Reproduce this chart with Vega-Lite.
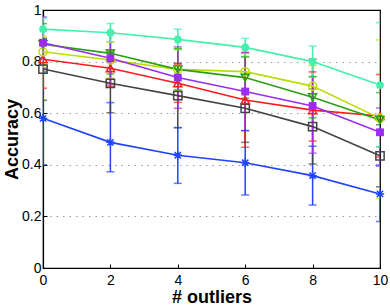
{
  "$schema": "https://vega.github.io/schema/vega-lite/v6.json",
  "width": 337,
  "height": 258,
  "autosize": "none",
  "padding": {"left": 43, "top": 10, "right": 10, "bottom": 40},
  "background": "white",
  "config": {
    "font": "Liberation Sans",
    "view": {"stroke": "black", "strokeWidth": 1.2},
    "axis": {"labelFont": "Liberation Sans", "titleFont": "Liberation Sans"}
  },
  "datasets": {
    "pts": [
      {"s": "blue", "x": 0, "y": 0.580, "lo": 0.400, "hi": 0.760},
      {"s": "blue", "x": 2, "y": 0.487, "lo": 0.373, "hi": 0.641},
      {"s": "blue", "x": 4, "y": 0.437, "lo": 0.328, "hi": 0.544},
      {"s": "blue", "x": 6, "y": 0.408, "lo": 0.283, "hi": 0.533},
      {"s": "blue", "x": 8, "y": 0.358, "lo": 0.244, "hi": 0.472},
      {"s": "blue", "x": 10, "y": 0.287, "lo": 0.180, "hi": 0.395},
      {"s": "grey", "x": 0, "y": 0.771, "lo": 0.650, "hi": 0.890},
      {"s": "grey", "x": 2, "y": 0.716, "lo": 0.602, "hi": 0.836},
      {"s": "grey", "x": 4, "y": 0.668, "lo": 0.544, "hi": 0.793},
      {"s": "grey", "x": 6, "y": 0.619, "lo": 0.487, "hi": 0.750},
      {"s": "grey", "x": 8, "y": 0.548, "lo": 0.403, "hi": 0.693},
      {"s": "grey", "x": 10, "y": 0.435, "lo": 0.315, "hi": 0.555},
      {"s": "red", "x": 0, "y": 0.809, "lo": 0.697, "hi": 0.920},
      {"s": "red", "x": 2, "y": 0.774, "lo": 0.705, "hi": 0.845},
      {"s": "red", "x": 4, "y": 0.716, "lo": 0.642, "hi": 0.790},
      {"s": "red", "x": 6, "y": 0.651, "lo": 0.468, "hi": 0.834},
      {"s": "red", "x": 8, "y": 0.612, "lo": 0.492, "hi": 0.760},
      {"s": "red", "x": 10, "y": 0.589, "lo": 0.430, "hi": 0.750},
      {"s": "ygreen", "x": 0, "y": 0.838, "lo": 0.778, "hi": 0.898},
      {"s": "ygreen", "x": 2, "y": 0.806, "lo": 0.736, "hi": 0.876},
      {"s": "ygreen", "x": 4, "y": 0.770, "lo": 0.690, "hi": 0.850},
      {"s": "ygreen", "x": 6, "y": 0.761, "lo": 0.691, "hi": 0.831},
      {"s": "ygreen", "x": 8, "y": 0.705, "lo": 0.625, "hi": 0.785},
      {"s": "ygreen", "x": 10, "y": 0.580, "lo": 0.270, "hi": 0.884},
      {"s": "green", "x": 0, "y": 0.867, "lo": 0.787, "hi": 0.947},
      {"s": "green", "x": 2, "y": 0.832, "lo": 0.752, "hi": 0.912},
      {"s": "green", "x": 4, "y": 0.770, "lo": 0.690, "hi": 0.850},
      {"s": "green", "x": 6, "y": 0.738, "lo": 0.658, "hi": 0.818},
      {"s": "green", "x": 8, "y": 0.662, "lo": 0.582, "hi": 0.742},
      {"s": "green", "x": 10, "y": 0.574, "lo": 0.470, "hi": 0.680},
      {"s": "purple", "x": 0, "y": 0.873, "lo": 0.773, "hi": 0.973},
      {"s": "purple", "x": 2, "y": 0.813, "lo": 0.713, "hi": 0.913},
      {"s": "purple", "x": 4, "y": 0.738, "lo": 0.619, "hi": 0.857},
      {"s": "purple", "x": 6, "y": 0.684, "lo": 0.532, "hi": 0.836},
      {"s": "purple", "x": 8, "y": 0.628, "lo": 0.445, "hi": 0.810},
      {"s": "purple", "x": 10, "y": 0.526, "lo": 0.400, "hi": 0.620},
      {"s": "cyan", "x": 0, "y": 0.926, "lo": 0.886, "hi": 0.968},
      {"s": "cyan", "x": 2, "y": 0.912, "lo": 0.876, "hi": 0.948},
      {"s": "cyan", "x": 4, "y": 0.886, "lo": 0.846, "hi": 0.926},
      {"s": "cyan", "x": 6, "y": 0.855, "lo": 0.820, "hi": 0.890},
      {"s": "cyan", "x": 8, "y": 0.800, "lo": 0.740, "hi": 0.860},
      {"s": "cyan", "x": 10, "y": 0.709, "lo": 0.470, "hi": 0.951}
    ]
  },
  "data": {"name": "pts"},
  "encoding": {
    "x": {
      "field": "x", "type": "quantitative",
      "scale": {"domain": [0, 10], "nice": false, "zero": false},
      "axis": {
        "values": [0, 2, 4, 6, 8, 10], "grid": false,
        "title": "# outliers", "titleFontSize": 18, "titleFontWeight": "bold", "titleColor": "black",
        "titlePadding": 1,
        "labelFontSize": 14, "labelColor": "black", "labelPadding": 9,
        "domainColor": "black", "domainWidth": 1.2,
        "tickColor": "black", "tickSize": -4, "labelFlush": false
      }
    },
    "y": {
      "field": "y", "type": "quantitative",
      "scale": {"domain": [0, 1], "nice": false},
      "axis": {
        "values": [0, 0.2, 0.4, 0.6, 0.8, 1], "format": ".1~f",
        "grid": true,
        "gridDash": {"condition": {"test": "datum.value >= 0.99 || datum.value <= 0.01", "value": []}, "value": [1.5, 5]},
        "gridColor": {"condition": {"test": "datum.value >= 0.99 || datum.value <= 0.01", "value": "black"}, "value": "#999999"},
        "gridWidth": {"condition": {"test": "datum.value >= 0.99 || datum.value <= 0.01", "value": 1.2}, "value": 1},
        "title": "Accuracy", "titleFontSize": 18, "titleFontWeight": "bold", "titleColor": "black",
        "titlePadding": 0,
        "labelFontSize": 14, "labelColor": "black", "labelPadding": 6,
        "domainColor": "black", "domainWidth": 1.2,
        "tickColor": "black", "tickSize": -4, "labelFlush": false
      }
    },
    "color": {
      "field": "s", "type": "nominal", "legend": null,
      "scale": {
        "domain": ["blue", "grey", "red", "ygreen", "green", "purple", "cyan"],
        "range": ["#1F44FF", "#444444", "#FF1A1A", "#BCDC00", "#2A9F10", "#9C2CF2", "#44F0AC"]
      }
    }
  },
  "layer": [
    {
      "mark": {"type": "rule", "strokeWidth": 1.5, "clip": true},
      "encoding": {"y": {"field": "lo", "type": "quantitative"}, "y2": {"field": "hi"}}
    },
    {
      "mark": {"type": "tick", "orient": "horizontal", "size": 8, "thickness": 1.5, "clip": true},
      "encoding": {"y": {"field": "lo", "type": "quantitative"}}
    },
    {
      "mark": {"type": "tick", "orient": "horizontal", "size": 8, "thickness": 1.5, "clip": true},
      "encoding": {"y": {"field": "hi", "type": "quantitative"}}
    },
    {
      "mark": {"type": "line", "strokeWidth": 1.6},
      "encoding": {"detail": {"field": "s"}}
    },
    {
      "transform": [{"filter": {"field": "s", "oneOf": ["blue", "grey", "red", "ygreen", "green"]}}],
      "mark": {"type": "point", "filled": false, "strokeWidth": 1.5, "opacity": 1},
      "encoding": {
        "shape": {
          "field": "s", "type": "nominal", "legend": null,
          "scale": {
            "domain": ["blue", "grey", "red", "ygreen", "green", "purple", "cyan"],
            "range": ["M-1,0L1,0M0,-1L0,1M-0.75,-0.75L0.75,0.75M-0.75,0.75L0.75,-0.75", "square", "triangle-up", "circle", "triangle-down", "square", "circle"]
          }
        },
        "size": {
          "field": "s", "type": "nominal", "legend": null,
          "scale": {"domain": ["blue", "grey", "red", "ygreen", "green", "purple", "cyan"], "range": [70, 60, 60, 100, 60, 80, 130]}
        }
      }
    },
    {
      "transform": [{"filter": {"field": "s", "oneOf": ["purple", "cyan"]}}],
      "mark": {"type": "point", "filled": true, "opacity": 1},
      "encoding": {
        "shape": {"field": "s", "type": "nominal", "legend": null},
        "size": {"field": "s", "type": "nominal", "legend": null}
      }
    }
  ]
}
